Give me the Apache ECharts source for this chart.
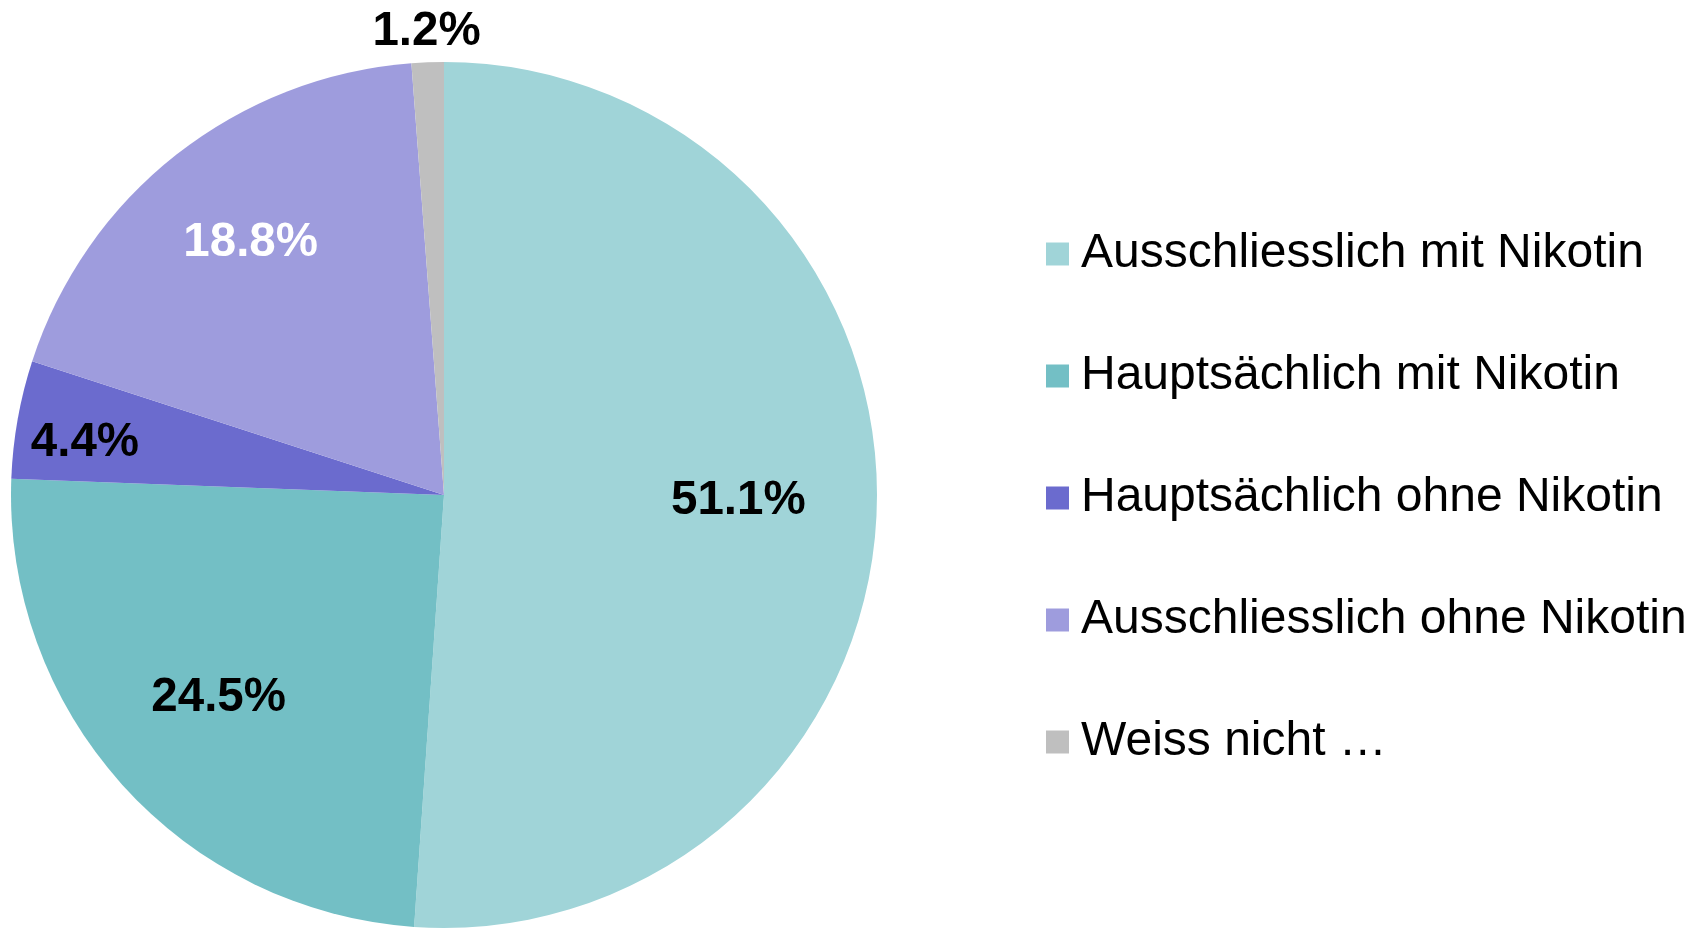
<!DOCTYPE html>
<html>
<head>
<meta charset="utf-8">
<script src="https://cdn.jsdelivr.net/npm/echarts@6/dist/echarts.min.js"></script>
<style>
  html, body { margin: 0; padding: 0; background: #fff; }
  #main { width: 1707px; height: 928px; }
</style>
</head>
<body>
<div id="main"></div>
<script>
// Daten
var categories = ['Ausschliesslich mit Nikotin', 'Hauptsächlich mit Nikotin', 'Hauptsächlich ohne Nikotin', 'Ausschliesslich ohne Nikotin', 'Weiss nicht …'];
var values = [51.1, 24.5, 4.4, 18.8, 1.2];

var colors = ['#a0d4d8', '#73bfc5', '#6b6bce', '#9e9cdd', '#bfbfbf'];
var labelColors = ['#000', '#000', '#000', '#fff', '#000'];
// Abstand der Beschriftung vom Mittelpunkt (Anteil vom Radius) + kleine Korrekturen
var labelDist = [0.68, 0.69, 0.84, 0.735, 1.055];
var labelNudgeX = [-4, 0, 4, 6, 0];
var labelNudgeY = [-4, 0, 12, 2, 0];

var cx = 444, cy = 495, radius = 433;

var data = [];
values.forEach(function (v, i) {
    data.push({
        value: v,
        name: categories[i],
        itemStyle: { color: colors[i] },
        label: { color: labelColors[i] }
    });
});

var myChart = echarts.init(document.getElementById('main'));
myChart.setOption({
    animation: false,
    legend: {
        orient: 'vertical',
        left: 1041,
        top: 225,
        icon: 'rect',
        itemWidth: 23,
        itemHeight: 23,
        itemGap: 74,
        selectedMode: false,
        textStyle: {
            fontFamily: 'Liberation Sans, Arial, sans-serif',
            fontSize: 48,
            lineHeight: 48,
            color: '#000',
            padding: [0, 0, 0, 7]
        },
        data: categories
    },
    series: [
        {
            name: 'Nikotin',
            type: 'pie',
            center: [cx, cy],
            radius: [0, radius],
            startAngle: 90,
            clockwise: true,
            avoidLabelOverlap: false,
            itemStyle: { borderWidth: 0 },
            label: {
                show: true,
                position: 'inside',
                formatter: function (p) { return p.value.toFixed(1) + '%'; },
                fontFamily: 'Liberation Sans, Arial, sans-serif',
                fontWeight: 'bold',
                fontSize: 47.5
            },
            labelLine: { show: false },
            emphasis: { disabled: true },
            labelLayout: function (params) {
                var i = params.dataIndex;
                var r = params.labelRect;
                var lx = r.x + r.width / 2 - cx;
                var ly = r.y + r.height / 2 - cy;
                var f = labelDist[i] / 0.5 - 1;
                return { dx: lx * f + labelNudgeX[i], dy: ly * f + labelNudgeY[i] };
            },
            data: data
        }
    ]
});
</script>
</body>
</html>
